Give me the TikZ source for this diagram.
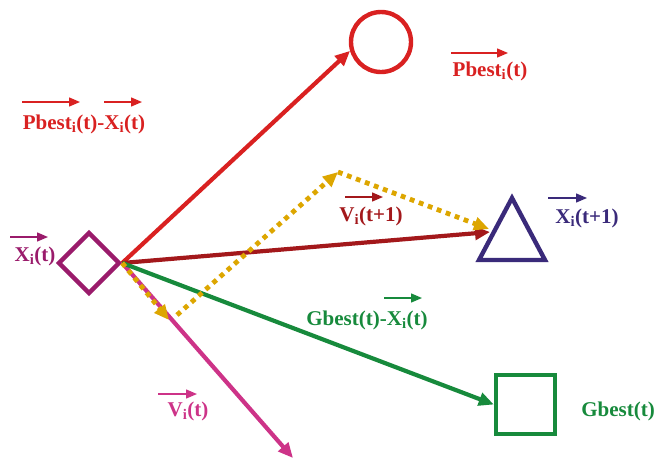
\documentclass[tikz,border=0pt]{standalone}
\usepackage{fontspec}
\setmainfont{Liberation Serif}
\usetikzlibrary{arrows.meta,shapes.geometric}
\definecolor{cred}{HTML}{D92121}
\definecolor{cpurp}{HTML}{9A1B6B}
\definecolor{cdred}{HTML}{A3181B}
\definecolor{cnavy}{HTML}{3A2A7A}
\definecolor{cgreen}{HTML}{178A3C}
\definecolor{cpink}{HTML}{CD3388}
\definecolor{cyell}{HTML}{DDA600}
\newcommand{\sbi}{\textsubscript{i}}
\tikzset{
  shapeline/.style={line width=4.4pt},
  vec/.style={line width=4.2pt,-{Triangle[length=15pt,width=13pt]}},
  dots/.style={line width=4.8pt,dash pattern=on 4.8pt off 4.8pt,cyell,-{Triangle[length=15pt,width=13pt]}},
  lab/.style={font=\fontsize{21}{25}\selectfont\bfseries,inner sep=0pt},
  tiny/.style={line width=1.4pt,-{Triangle[length=11pt,width=9pt]}}
}
\begin{document}
\begin{tikzpicture}[x=1pt,y=-1pt]
\useasboundingbox (0,0) rectangle (658,459);
% shapes
\node[draw=cred,shapeline,circle,minimum size=60pt,inner sep=0pt] (circ) at (381,42) {};
\node[draw=cpurp,shapeline,diamond,minimum width=62pt,minimum height=62pt,inner sep=0pt] (dia) at (89,263) {};
\coordinate (tA) at (512,198);
\coordinate (tB) at (545,260);
\coordinate (tC) at (479,260);
\draw[cnavy,shapeline,line join=miter] (tA) -- (tB) -- (tC) -- cycle;
\coordinate (triL) at (490,232);
\node[draw=cgreen,shapeline,minimum size=59pt,inner sep=0pt] (sq) at (525.5,404.5) {};
% origin
\coordinate (o) at (dia.east);
\coordinate (pinkend) at (293,458);
\coordinate (y1) at (169,320);
\coordinate (y1s) at (177,315);
\coordinate (y2) at (338,172);
\coordinate (y3) at (489,229);
% vectors
\draw[vec,cpink] (o) -- (pinkend);
\draw[vec,cred] (o) -- (circ.196);
\draw[vec,cdred] (o) -- (triL);
\draw[vec,cgreen] (o) -- (sq.west);
\draw[dots] (o) -- (y1);
\draw[dots] (y1s) -- (y2);
\draw[dots] (y2) -- (y3);
% labels
\node[lab,cred] (lpb) at (490,71) {Pbest\sbi(t)};
\draw[tiny,cred] (451,53) -- (508,53);
\node[lab,cred] (lpbx) at (84,124) {Pbest\sbi(t)-X\sbi(t)};
\draw[tiny,cred] (22,102) -- (80,102);
\draw[tiny,cred] (104,102) -- (142,102);
\node[lab,cpurp] (lx) at (35,256) {X\sbi(t)};
\draw[tiny,cpurp] (10,237) -- (48,237);
\node[lab,cdred] (lv1) at (371,216) {V\sbi(t+1)};
\draw[tiny,cdred] (345,197) -- (383,197);
\node[lab,cnavy] (lx1) at (587,218) {X\sbi(t+1)};
\draw[tiny,cnavy] (548,198) -- (587,198);
\node[lab,cgreen] (lgx) at (367,320) {Gbest(t)-X\sbi(t)};
\draw[tiny,cgreen] (384,298) -- (422,298);
\node[lab,cpink] (lv) at (188,411) {V\sbi(t)};
\draw[tiny,cpink] (158,394) -- (197,394);
\node[lab,cgreen] (lg) at (618,411) {Gbest(t)};
\end{tikzpicture}
\end{document}
